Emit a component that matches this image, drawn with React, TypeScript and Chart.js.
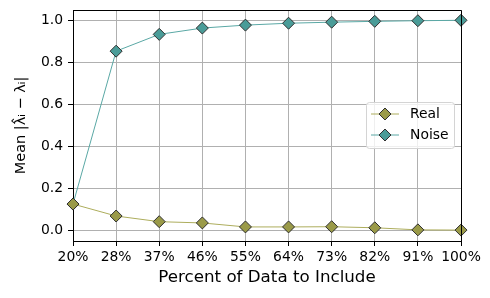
import React, { useEffect, useRef } from "react";
import { Chart, registerables } from "chart.js";

Chart.register(...registerables);

const categories = ["20%", "28%", "37%", "46%", "55%", "64%", "73%", "82%", "91%", "100%"];
const realValues = [0.124, 0.067, 0.04, 0.034, 0.015, 0.015, 0.016, 0.011, 0.001, 0.0];
const noiseValues = [0.124, 0.852, 0.932, 0.962, 0.976, 0.985, 0.99, 0.994, 0.997, 0.999];
const yTicks = [0.0, 0.2, 0.4, 0.6, 0.8, 1.0];

const FONT = "'DejaVu Sans', sans-serif";
const realLine = "#adad5c";
const realFace = "#9a9a48";
const noiseLine = "#5aa8a5";
const noiseFace = "#4a9c98";
const edge = "#2f2f2f";

const framePlugin = {
  id: "frame",
  afterDatasetsDraw(chart: any) {
    const { ctx, chartArea: a } = chart;
    ctx.save();
    ctx.strokeStyle = "#000";
    ctx.lineWidth = 1;
    ctx.beginPath();
    ctx.moveTo(a.left, a.top + 0.5);
    ctx.lineTo(a.right + 0.5, a.top + 0.5);
    ctx.lineTo(a.right + 0.5, a.bottom);
    ctx.stroke();
    ctx.restore();
  },
};

const legendPlugin = {
  id: "customLegend",
  afterDraw(chart: any) {
    const ctx = chart.ctx;
    const x0 = 366.5, y0 = 102.5, w = 88, h = 46;
    ctx.save();
    ctx.beginPath();
    const r = 3;
    ctx.moveTo(x0 + r, y0);
    ctx.arcTo(x0 + w, y0, x0 + w, y0 + h, r);
    ctx.arcTo(x0 + w, y0 + h, x0, y0 + h, r);
    ctx.arcTo(x0, y0 + h, x0, y0, r);
    ctx.arcTo(x0, y0, x0 + w, y0, r);
    ctx.closePath();
    ctx.fillStyle = "rgba(255,255,255,0.8)";
    ctx.fill();
    ctx.strokeStyle = "#d4d4d4";
    ctx.lineWidth = 1;
    ctx.stroke();
    const items = [
      { label: "Real", line: realLine, face: realFace, y: 114 },
      { label: "Noise", line: noiseLine, face: noiseFace, y: 135 },
    ];
    for (const it of items) {
      ctx.beginPath();
      ctx.moveTo(371, it.y);
      ctx.lineTo(399, it.y);
      ctx.strokeStyle = it.line;
      ctx.lineWidth = 1;
      ctx.stroke();
      const cx = 385, rr = 6;
      ctx.beginPath();
      ctx.moveTo(cx, it.y - rr);
      ctx.lineTo(cx + rr, it.y);
      ctx.lineTo(cx, it.y + rr);
      ctx.lineTo(cx - rr, it.y);
      ctx.closePath();
      ctx.fillStyle = it.face;
      ctx.fill();
      ctx.strokeStyle = edge;
      ctx.stroke();
      ctx.fillStyle = "#000";
      ctx.font = `13.9px ${FONT}`;
      ctx.textBaseline = "middle";
      ctx.textAlign = "left";
      ctx.fillText(it.label, 410, it.y);
    }
    ctx.restore();
  },
};

export default function App() {
  const ref = useRef<HTMLCanvasElement>(null);
  useEffect(() => {
    document.body.style.margin = "0";
    const chart = new Chart(ref.current!, {
      type: "line",
      data: {
        labels: categories,
        datasets: [
          {
            label: "Real",
            data: realValues,
            borderColor: realLine,
            borderWidth: 1,
            pointStyle: "rectRot",
            pointRadius: 6,
            pointBackgroundColor: realFace,
            pointBorderColor: edge,
            pointBorderWidth: 1,
            tension: 0,
          },
          {
            label: "Noise",
            data: noiseValues,
            borderColor: noiseLine,
            borderWidth: 1,
            pointStyle: "rectRot",
            pointRadius: 6,
            pointBackgroundColor: noiseFace,
            pointBorderColor: edge,
            pointBorderWidth: 1,
            tension: 0,
          },
        ],
      },
      options: {
        animation: false,
        responsive: false,
        clip: false as any,
        layout: { padding: { left: 0, right: 29, top: 10, bottom: 0 } },
        plugins: { legend: { display: false }, tooltip: { enabled: false } },
        scales: {
          x: {
            type: "category",
            offset: false,
            grid: { color: "#b0b0b0", lineWidth: 1, tickLength: 5, tickColor: "#000", offset: false },
            border: { color: "#000", width: 1 },
            ticks: { color: "#000", font: { family: FONT, size: 13.9 }, padding: 3, maxRotation: 0, autoSkip: false },
            title: {
              display: true,
              text: "Percent of Data to Include",
              color: "#000",
              font: { family: FONT, size: 16.7 },
              padding: { top: 0, bottom: 10 },
            },
            afterFit: (s: any) => {
              s.height = 57;
              s.paddingLeft = 0;
              s.paddingRight = 0;
            },
          },
          y: {
            type: "linear",
            min: -0.052,
            max: 1.048,
            grid: { color: "#b0b0b0", lineWidth: 1, tickLength: 5, tickColor: "#000" },
            border: { color: "#000", width: 1 },
            ticks: {
              color: "#000",
              font: { family: FONT, size: 13.9 },
              padding: 5,
              callback: (v: any) => Number(v).toFixed(1),
            },
            afterBuildTicks: (s: any) => { s.ticks = yTicks.map((v) => ({ value: v })); },
            title: {
              display: true,
              text: "Mean |λ̂ᵢ − λᵢ|",
              color: "#000",
              font: { family: FONT, size: 14.5 },
              padding: { top: 13, bottom: 0 },
            },
            afterFit: (s: any) => {
              s.width = 73;
              s.paddingTop = 0;
              s.paddingBottom = 0;
            },
          },
        },
      },
      plugins: [framePlugin, legendPlugin],
    });
    return () => chart.destroy();
  }, []);
  return (
    <div style={{ position: "absolute", left: 0, top: 0, width: 490, height: 298 }}>
      <canvas ref={ref} width={490} height={298} />
    </div>
  );
}
